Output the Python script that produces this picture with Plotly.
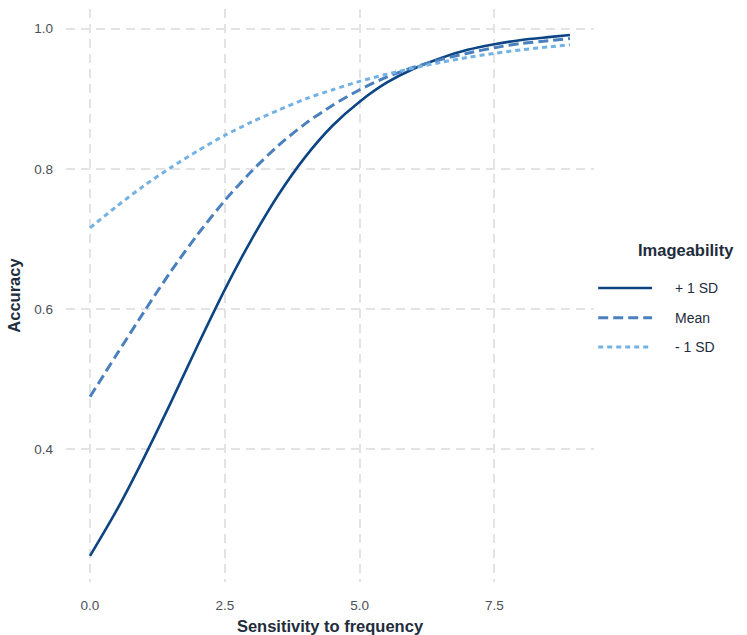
import plotly.graph_objects as go

sensitivity = [0.0, 0.5, 1.0, 1.5, 2.0, 2.5, 3.0, 3.5, 4.0, 4.5, 5.0, 5.5, 6.0,
               6.5, 7.0, 7.5, 8.0, 8.5, 8.9]

# Predicted accuracy for each imageability level
acc_plus1sd = [0.248, 0.314, 0.388, 0.467, 0.549, 0.628, 0.700, 0.764, 0.818, 0.862,
               0.896, 0.923, 0.943, 0.958, 0.970, 0.978, 0.984, 0.988, 0.991]
acc_mean = [0.475, 0.536, 0.596, 0.654, 0.707, 0.755, 0.797, 0.834, 0.865, 0.891,
            0.913, 0.931, 0.945, 0.956, 0.965, 0.973, 0.979, 0.983, 0.986]
acc_minus1sd = [0.716, 0.747, 0.776, 0.802, 0.826, 0.848, 0.867, 0.884, 0.900, 0.913,
                0.925, 0.935, 0.944, 0.952, 0.959, 0.965, 0.970, 0.974, 0.977]

series_names = ["+ 1 SD", "Mean", "- 1 SD"]
x_ticks = [0.0, 2.5, 5.0, 7.5]
x_tick_labels = ["0.0", "2.5", "5.0", "7.5"]
y_ticks = [0.4, 0.6, 0.8, 1.0]
y_tick_labels = ["0.4", "0.6", "0.8", "1.0"]

colors = ["#0d4584", "#4a80bd", "#74b2e4"]
dashes = ["solid", "10px,5px", "5px,4px"]
widths = [2.6, 3.0, 3.0]

FONT = "Liberation Sans, Arial, sans-serif"
TITLE_COLOR = "#1e2c3c"
TICK_COLOR = "#4a4f57"

fig = go.Figure()
for name, ys, c, d, w in zip(series_names, [acc_plus1sd, acc_mean, acc_minus1sd],
                             colors, dashes, widths):
    fig.add_trace(go.Scatter(
        x=sensitivity, y=ys, mode="lines", name=name,
        line=dict(color=c, dash=d, width=w, shape="spline", smoothing=0.8),
        showlegend=False,
    ))

# manual legend (ggplot style: long key lines)
legend_y = [0.513, 0.461, 0.410]
for name, c, d, w, ly in zip(series_names, colors, dashes, widths, legend_y):
    fig.add_shape(type="line", xref="paper", yref="paper",
                  x0=1.008, x1=1.110, y0=ly, y1=ly,
                  line=dict(color=c, dash=d, width=w))
    fig.add_annotation(xref="paper", yref="paper", x=1.150, y=ly, text=name,
                       showarrow=False, xanchor="left", yanchor="middle",
                       font=dict(family=FONT, size=14, color=TITLE_COLOR))
fig.add_annotation(xref="paper", yref="paper", x=1.174, y=0.579, text="<b>Imageability</b>",
                   showarrow=False, xanchor="center", yanchor="middle",
                   font=dict(family=FONT, size=16.5, color=TITLE_COLOR))

xmin, xmax = min(sensitivity), max(sensitivity)
allys = acc_plus1sd + acc_mean + acc_minus1sd
ymin, ymax = min(allys), max(allys)
xpad = (xmax - xmin) * 0.05
ypad = (ymax - ymin) * 0.05

fig.update_layout(
    template="none",
    width=747, height=635,
    margin=dict(l=66, r=153, t=9, b=53),
    plot_bgcolor="white", paper_bgcolor="white",
    font=dict(family=FONT, color=TICK_COLOR),
    showlegend=False,
    xaxis=dict(
        automargin=False,
        range=[xmin - xpad, xmax + xpad],
        tickvals=x_ticks, ticktext=x_tick_labels,
        showgrid=True, gridcolor="#e3e3e3", gridwidth=1.5, griddash="9px,6px",
        zeroline=False, showline=False, ticks="",
        ticklabelstandoff=13,
        tickfont=dict(family=FONT, size=13.5, color=TICK_COLOR),
        title=dict(text="<b>Sensitivity to frequency</b>", standoff=8,
                   font=dict(family=FONT, size=16.5, color=TITLE_COLOR)),
    ),
    yaxis=dict(
        automargin=False,
        range=[ymin - ypad, ymax + ypad],
        tickvals=y_ticks, ticktext=y_tick_labels,
        showgrid=True, gridcolor="#e3e3e3", gridwidth=1.5, griddash="9px,6px",
        zeroline=False, showline=False, ticks="",
        ticklabelstandoff=12,
        tickfont=dict(family=FONT, size=13.5, color=TICK_COLOR),
        title=dict(text="<b>Accuracy</b>", standoff=9,
                   font=dict(family=FONT, size=16.5, color=TITLE_COLOR)),
    ),
)

fig.write_html("out.html", config={"displayModeBar": False},
               post_script="document.body.style.margin='0px';")
